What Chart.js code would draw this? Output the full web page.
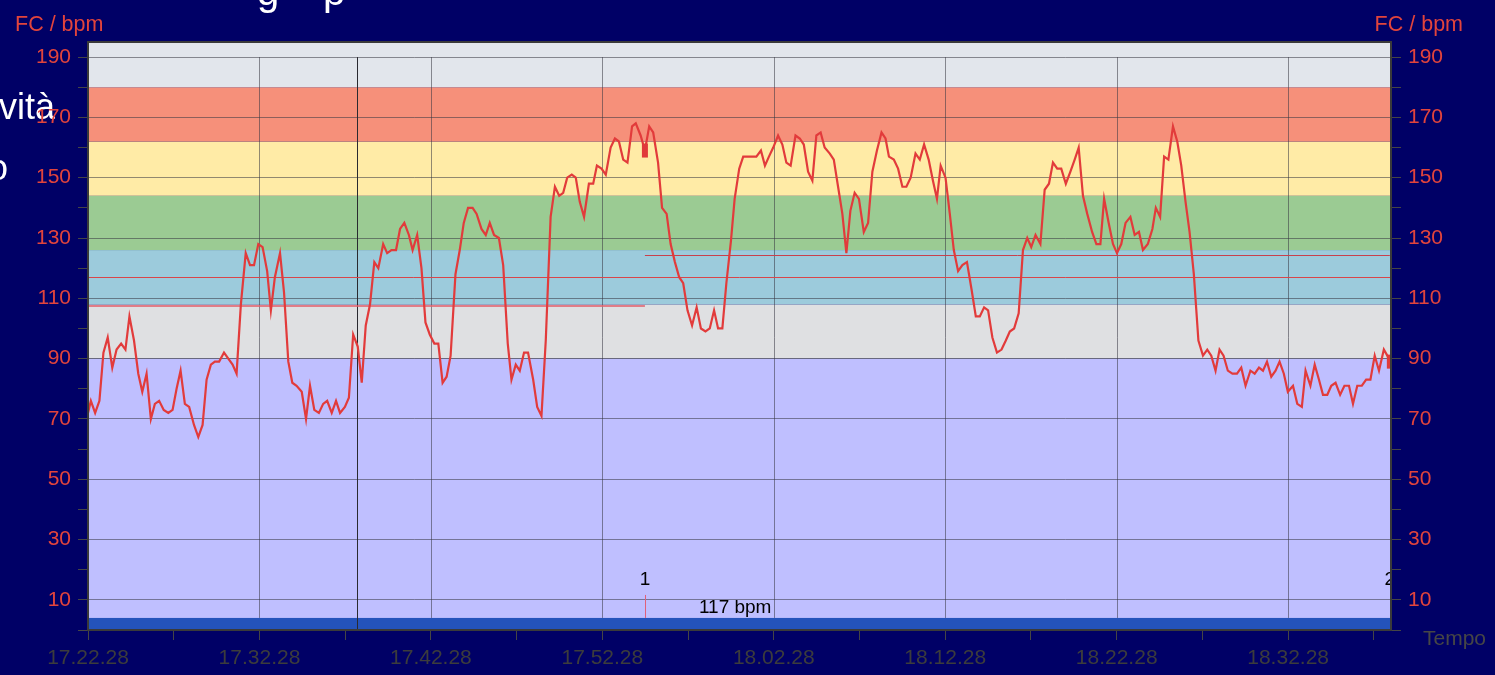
<!DOCTYPE html>
<html>
<head>
<meta charset="utf-8">
<script src="https://cdn.jsdelivr.net/npm/chart.js@4.4.1/dist/chart.umd.min.js"></script>
<style>
  html, body { margin: 0; padding: 0; background: #000066; overflow: hidden; }
  canvas { display: block; }
</style>
</head>
<body>
<canvas id="hrChart" width="1495" height="675"></canvas>
<script>
// heart rate samples: seconds from start, bpm
const secs = [
  0, 10, 25, 40, 54, 69, 85, 100, 116, 131, 145, 161, 176, 190, 205, 220, 234, 249, 265, 281,
  296, 310, 324, 339, 354, 371, 386, 401, 415, 430, 444, 459, 476, 491, 506, 520, 535, 552, 567, 581,
  596, 611, 627, 640, 654, 672, 686, 701, 715, 730, 748, 763, 777, 792, 808, 823, 837, 853, 868, 882,
  899, 913, 928, 944, 958, 972, 987, 1002, 1016, 1033, 1047, 1062, 1078, 1092, 1107, 1123, 1136, 1152, 1167, 1181,
  1196, 1212, 1226, 1241, 1255, 1269, 1286, 1301, 1315, 1330, 1346, 1360, 1377, 1392, 1406, 1421, 1438, 1453, 1469, 1482,
  1497, 1511, 1526, 1540, 1558, 1572, 1587, 1602, 1619, 1634, 1649, 1663, 1677, 1693, 1707, 1721, 1736, 1753, 1768, 1781,
  1797, 1812, 1829, 1844, 1858, 1873, 1888, 1904, 1917, 1934, 1949, 1964, 1978, 1995, 2009, 2025, 2039, 2054, 2069, 2083,
  2098, 2114, 2130, 2145, 2161, 2176, 2191, 2205, 2220, 2234, 2250, 2263, 2279, 2293, 2308, 2324, 2339, 2355, 2369, 2383,
  2398, 2415, 2430, 2444, 2459, 2476, 2491, 2505, 2520, 2535, 2549, 2564, 2578, 2596, 2610, 2625, 2640, 2654, 2668, 2683,
  2698, 2715, 2730, 2745, 2761, 2777, 2791, 2803, 2820, 2835, 2850, 2864, 2879, 2896, 2911, 2926, 2942, 2957, 2971, 2984,
  3001, 3016, 3030, 3045, 3060, 3076, 3092, 3107, 3121, 3136, 3150, 3165, 3181, 3197, 3212, 3226, 3241, 3257, 3272, 3287,
  3301, 3316, 3333, 3348, 3363, 3377, 3392, 3406, 3422, 3438, 3453, 3467, 3482, 3497, 3514, 3529, 3543, 3556, 3572, 3587,
  3601, 3616, 3631, 3648, 3663, 3678, 3692, 3709, 3725, 3737, 3752, 3766, 3781, 3797, 3812, 3826, 3841, 3855, 3870, 3886,
  3902, 3917, 3931, 3946, 3960, 3974, 3989, 4005, 4021, 4036, 4051, 4068, 4083, 4098, 4112, 4126, 4141, 4156, 4170, 4185,
  4199, 4217, 4232, 4248, 4261, 4278, 4293, 4308, 4322, 4337, 4351, 4366, 4382, 4397, 4413, 4427, 4442, 4458, 4473, 4488,
  4503, 4518, 4535, 4547, 4556
];
const bpm = [
  72, 76, 72, 76, 92, 97, 87, 93, 95, 93, 104, 96, 85, 79, 85, 70, 75, 76, 73, 72,
  73, 80, 86, 75, 74, 68, 64, 68, 83, 88, 89, 89, 92, 90, 88, 85, 108, 125, 121, 121,
  128, 127, 119, 106, 117, 125, 112, 89, 82, 81, 79, 70, 81, 73, 72, 75, 76, 72, 76, 72,
  74, 77, 98, 94, 82, 101, 108, 122, 120, 128, 125, 126, 126, 133, 135, 131, 126, 131, 120, 102,
  98, 95, 95, 82, 84, 91, 118, 126, 135, 140, 140, 138, 133, 131, 135, 131, 130, 121, 95, 83,
  88, 86, 92, 92, 83, 74, 71, 96, 137, 147, 144, 145, 150, 151, 150, 142, 137, 148, 148, 154,
  153, 151, 160, 163, 162, 156, 155, 167, 168, 164, 159, 167, 165, 155, 140, 138, 128, 122, 117, 115,
  106, 101, 107, 100, 99, 100, 106, 100, 100, 115, 129, 143, 153, 157, 157, 157, 157, 159, 154, 157,
  160, 164, 161, 155, 154, 164, 163, 161, 152, 149, 164, 165, 160, 158, 156, 147, 138, 125, 139, 145,
  143, 132, 135, 152, 159, 165, 163, 157, 156, 153, 147, 147, 150, 158, 156, 161, 156, 149, 143, 154,
  150, 138, 126, 119, 121, 122, 113, 104, 104, 107, 106, 97, 92, 93, 96, 99, 100, 105, 126, 130,
  127, 131, 128, 146, 148, 155, 153, 153, 148, 152, 156, 160, 144, 138, 132, 128, 128, 143, 135, 128,
  125, 128, 135, 137, 131, 132, 126, 128, 133, 140, 137, 157, 156, 167, 162, 154, 142, 132, 118, 96,
  91, 93, 91, 86, 93, 91, 86, 85, 85, 87, 81, 86, 85, 87, 86, 89, 84, 86, 89, 85,
  79, 81, 75, 74, 86, 81, 88, 83, 78, 78, 81, 82, 78, 81, 81, 75, 81, 81, 83, 83,
  91, 86, 93, 91, 89
];

// training zones (bpm limits, bottom to top) and their fills
const zoneLimits = [0, 90, 108, 126, 144, 162, 180, 195];
const zoneColors = ['#bfbfff', '#dfe0e2', '#9ccbdc', '#9bcb93', '#ffeba6', '#f6907a', '#e2e6ec'];
const baseBand = [0, 4];

// laps and averages
const lapTimes = [1949, 4556];
const lapLabels = ['1', '2'];
const lapAvg = [107.5, 124.5];
const overallAvg = 117;
const eventTimes = [941];

// axis ticks
const startClock = [17, 22, 28];
const endSec = 4560;
const timeTicks = [0, 300, 600, 900, 1200, 1500, 1800, 2100, 2400, 2700, 3000, 3300, 3600, 3900, 4200, 4500];
const timeLabelStep = 600;
const bpmTicks = [0, 10, 20, 30, 40, 50, 60, 70, 80, 90, 100, 110, 120, 130, 140, 150, 160, 170, 180, 190];
const bpmLabels = [10, 30, 50, 70, 90, 110, 130, 150, 170, 190];

const font = '"Liberation Sans", Arial, sans-serif';
const gridGray = 'rgba(55,55,65,0.55)';

function clock(v) {
  const s = startClock[0] * 3600 + startClock[1] * 60 + startClock[2] + v;
  const pad = n => String(n).padStart(2, '0');
  return Math.floor(s / 3600) + '.' + pad(Math.floor(s % 3600 / 60)) + '.' + pad(s % 60);
}

const zonesPlugin = {
  id: 'zones',
  beforeDraw(chart) {
    const { ctx, chartArea: a, scales: { y } } = chart;
    ctx.save();
    // slide text sitting behind the chart
    ctx.fillStyle = '#ffffff';
    ctx.textBaseline = 'alphabetic';
    ctx.font = '36px ' + font;
    ctx.fillText('vità', -1, 119);
    ctx.fillText('o', -12, 180);
    ctx.font = '40px ' + font;
    ctx.fillText('g', 257, 5);
    ctx.fillText('p', 323, 5);

    for (let i = 0; i < zoneColors.length; i++) {
      const top = y.getPixelForValue(zoneLimits[i + 1]);
      const bot = y.getPixelForValue(zoneLimits[i]);
      ctx.fillStyle = zoneColors[i];
      ctx.fillRect(a.left, top, a.right - a.left, bot - top);
    }
    ctx.restore();
  },
  beforeDatasetsDraw(chart) {
    const { ctx, chartArea: a, scales: { x, y } } = chart;
    ctx.save();
    ctx.lineWidth = 1;
    // time grid, running from the 190 line down to the base band
    ctx.strokeStyle = gridGray;
    timeTicks.filter(t => t > 0 && t % timeLabelStep === 0).forEach(t => {
      const px = Math.round(x.getPixelForValue(t)) + 0.5;
      ctx.beginPath();
      ctx.moveTo(px, y.getPixelForValue(190));
      ctx.lineTo(px, y.getPixelForValue(baseBand[1]));
      ctx.stroke();
    });
    // base band
    ctx.fillStyle = '#2453bb';
    const bTop = y.getPixelForValue(baseBand[1]);
    ctx.fillRect(a.left, bTop, a.right - a.left, y.getPixelForValue(baseBand[0]) - bTop);

    // event marks
    ctx.strokeStyle = '#2a2a30';
    eventTimes.forEach(t => {
      const px = Math.round(x.getPixelForValue(t)) + 0.5;
      ctx.beginPath();
      ctx.moveTo(px, y.getPixelForValue(190));
      ctx.lineTo(px, a.bottom);
      ctx.stroke();
    });

    // overall average
    ctx.strokeStyle = '#d8464a';
    let py = Math.round(y.getPixelForValue(overallAvg)) + 0.5;
    ctx.beginPath();
    ctx.moveTo(a.left, py);
    ctx.lineTo(a.right, py);
    ctx.stroke();

    // lap averages
    let from = 0;
    lapTimes.forEach((t, i) => {
      ctx.strokeStyle = i === 0 ? 'rgba(226,92,104,0.75)' : '#c8404c';
      ctx.lineWidth = i === 0 ? 2 : 1;
      py = Math.round(y.getPixelForValue(lapAvg[i])) + (i === 0 ? 0 : 0.5);
      ctx.beginPath();
      ctx.moveTo(x.getPixelForValue(from), py);
      ctx.lineTo(Math.min(x.getPixelForValue(t), a.right), py);
      ctx.stroke();
      from = t;
    });
    ctx.restore();
  },
  afterDatasetsDraw(chart) {
    const { ctx, chartArea: a, scales: { x, y } } = chart;
    ctx.save();
    ctx.beginPath();
    ctx.rect(a.left, a.top, a.right - a.left, a.bottom - a.top);
    ctx.clip();
    const bTop = y.getPixelForValue(baseBand[1]);
    ctx.font = '19px ' + font;
    lapTimes.forEach((t, i) => {
      const px = x.getPixelForValue(t);
      const v = bpm[secs.indexOf(t)];
      const py = y.getPixelForValue(v);
      ctx.fillStyle = '#e03a3a';
      ctx.fillRect(px - 3, py - 7, 6, 14);
      ctx.strokeStyle = '#e0607a';
      ctx.lineWidth = 1;
      ctx.beginPath();
      ctx.moveTo(Math.round(px) + 0.5, bTop);
      ctx.lineTo(Math.round(px) + 0.5, bTop - 23);
      ctx.stroke();
      ctx.fillStyle = '#000000';
      ctx.textAlign = 'center';
      ctx.textBaseline = 'alphabetic';
      ctx.fillText(lapLabels[i], px, bTop - 33);
    });
    ctx.textAlign = 'left';
    ctx.fillText(overallAvg + ' bpm', x.getPixelForValue(lapTimes[0]) + 54, bTop - 5);
    ctx.restore();
  },
  afterDraw(chart) {
    const { ctx, chartArea: a } = chart;
    ctx.save();
    ctx.strokeStyle = '#3a3a3a';
    ctx.lineWidth = 2;
    ctx.strokeRect(a.left, a.top, a.right - a.left, a.bottom - a.top);
    ctx.font = '21.5px ' + font;
    ctx.fillStyle = '#e2443c';
    ctx.textBaseline = 'alphabetic';
    ctx.textAlign = 'left';
    ctx.fillText('FC / bpm', 15, 31);
    ctx.textAlign = 'right';
    ctx.fillText('FC / bpm', 1463, 31);
    ctx.textAlign = 'left';
    ctx.fillStyle = '#464646';
    ctx.font = '21px ' + font;
    ctx.fillText('Tempo', 1423, 645);
    ctx.restore();
  }
};

function yAxis(position, width) {
  return {
    position: position,
    min: 0,
    max: 195,
    afterBuildTicks: s => { s.ticks = bpmTicks.map(v => ({ value: v })); },
    afterFit: s => { s.width = width; },
    ticks: {
      autoSkip: false,
      color: '#e2443c',
      padding: 7,
      font: { size: 21, family: font },
      callback: v => (bpmLabels.includes(v) ? String(v) : '')
    },
    grid: {
      drawOnChartArea: position === 'left',
      color: c => (c.tick && bpmLabels.includes(c.tick.value)) ? gridGray : 'rgba(0,0,0,0)',
      tickColor: '#454545',
      tickLength: 10,
      lineWidth: 1
    },
    border: { color: '#3a3a3a', width: 2 }
  };
}

new Chart(document.getElementById('hrChart').getContext('2d'), {
  type: 'line',
  data: {
    datasets: [{
      label: 'FC',
      data: secs.map((s, i) => ({ x: s, y: bpm[i] })),
      borderColor: '#e23b3b',
      borderWidth: 2.2,
      pointRadius: 0,
      tension: 0
    }]
  },
  options: {
    responsive: false,
    animation: false,
    layout: { padding: { top: 42, left: 0, right: 0, bottom: 0 } },
    plugins: { legend: { display: false }, tooltip: { enabled: false } },
    scales: {
      x: {
        type: 'linear',
        min: 0,
        max: endSec,
        afterBuildTicks: s => { s.ticks = timeTicks.map(v => ({ value: v })); },
        afterFit: s => { s.height = 45; },
        ticks: {
          autoSkip: false,
          maxRotation: 0,
          color: '#3c3c3c',
          padding: 6,
          font: { size: 21, family: font },
          callback: v => (v % timeLabelStep === 0 ? clock(v) : '')
        },
        grid: { drawOnChartArea: false, tickColor: '#454545', tickLength: 10 },
        border: { color: '#3a3a3a', width: 2 }
      },
      y: yAxis('left', 88),
      y2: yAxis('right', 104)
    }
  },
  plugins: [zonesPlugin]
});
</script>
</body>
</html>
